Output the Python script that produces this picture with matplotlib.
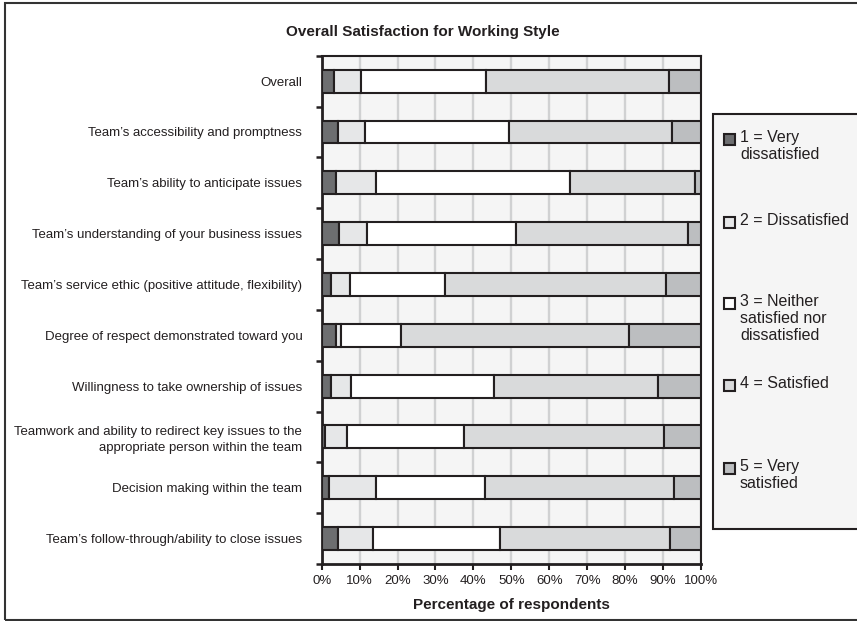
import numpy as np
import matplotlib
matplotlib.use("Agg")
import matplotlib.pyplot as plt
from matplotlib.patches import Rectangle

plt.rcParams['font.family'] = ['Liberation Sans', 'DejaVu Sans']

categories = [
    "Overall",
    "Team\u2019s accessibility and promptness",
    "Team\u2019s ability to anticipate issues",
    "Team\u2019s understanding of your business issues",
    "Team\u2019s service ethic (positive attitude, flexibility)",
    "Degree of respect demonstrated toward you",
    "Willingness to take ownership of issues",
    "Teamwork and ability to redirect key issues to the\nappropriate person within the team",
    "Decision making within the team",
    "Team\u2019s follow-through/ability to close issues",
]

# percent of respondents per rating, one list per rating
very_dissatisfied = [3.2, 4.4, 3.8, 4.6, 2.4, 3.8, 2.4, 0.9, 1.9, 4.4]
dissatisfied = [7.1, 7.0, 10.5, 7.4, 5.1, 1.2, 5.3, 5.7, 12.3, 9.1]
neither = [33.1, 38.1, 51.2, 39.3, 25.0, 15.8, 37.6, 31.0, 28.9, 33.6]
satisfied = [48.1, 42.9, 32.8, 45.3, 58.4, 60.1, 43.3, 52.7, 49.9, 44.8]
very_satisfied = [8.5, 7.6, 1.7, 3.4, 9.1, 19.1, 11.4, 9.7, 7.0, 8.1]

legend_labels = ["1 = Very\ndissatisfied", "2 = Dissatisfied",
                 "3 = Neither\nsatisfied nor\ndissatisfied", "4 = Satisfied",
                 "5 = Very\nsatisfied"]
colors = ["#6d6e70", "#e6e7e8", "#ffffff", "#d9dadb", "#bcbec0"]
edge = "#231f20"

series = [very_dissatisfied, dissatisfied, neither, satisfied, very_satisfied]

fig = plt.figure(figsize=(8.57, 6.21), dpi=100)
W, H = 857, 621
ax = fig.add_axes([321.7 / W, 1 - 564 / H, (701 - 321.7) / W, (564 - 55.7) / H])
ax.set_facecolor("#f5f5f5")

y = np.arange(len(categories))
left = np.zeros(len(categories))
for vals, col in zip(series, colors):
    ax.barh(y, vals, left=left, height=0.45, color=col, edgecolor=edge,
            linewidth=1.5, zorder=3)
    left += np.array(vals)

ax.set_xlim(0, 100)
ax.set_ylim(len(categories) - 0.5, -0.5)
ax.set_xticks(np.arange(0, 101, 10))
ax.set_xticklabels([f"{v}%" for v in range(0, 101, 10)], fontsize=9.5, color="#231f20")
ax.tick_params(axis='x', length=4, width=1.5, color=edge, pad=4)
ax.xaxis.grid(True, color="#d0d1d2", linewidth=1.7, zorder=0)
ax.set_axisbelow(True)

ax.set_yticks(y)
ax.set_yticklabels(categories, fontsize=9.5, color="#231f20", linespacing=1.4)
ax.tick_params(axis='y', which='major', length=0, pad=14)
ax.set_yticks(np.arange(-0.5, len(categories), 1.0), minor=True)
ax.tick_params(axis='y', which='minor', length=4, width=1.8, color=edge)

for s in ["left", "bottom"]:
    ax.spines[s].set_linewidth(2.0)
    ax.spines[s].set_color(edge)
for s in ["top", "right"]:
    ax.spines[s].set_linewidth(1.5)
    ax.spines[s].set_color(edge)

ax.set_xlabel("Percentage of respondents", fontsize=11, fontweight='bold',
              color="#231f20", labelpad=8)
fig.text(423 / W, 1 - 32 / H, "Overall Satisfaction for Working Style",
         ha='center', va='center', fontsize=11, fontweight='bold', color="#231f20")

# outer frame
fig.patches.append(Rectangle((4.5 / W, 1.5 / H), (870 - 4.5) / W, (618 - 1.5) / H,
                             transform=fig.transFigure, fill=False,
                             edgecolor="#333333", linewidth=1.5))

# legend box
fig.patches.append(Rectangle((713 / W, 1 - 529 / H), (880 - 713) / W, (529 - 114) / H,
                             transform=fig.transFigure, facecolor="#f5f5f5",
                             edgecolor=edge, linewidth=1.5))
legend_y = [139, 222, 303, 385, 468]
for lab, col, yy in zip(legend_labels, colors, legend_y):
    fig.patches.append(Rectangle((724 / W, 1 - (yy + 6) / H), 11 / W, 11 / H,
                                 transform=fig.transFigure, facecolor=col,
                                 edgecolor=edge, linewidth=1.5))
    fig.text(740 / W, 1 - (yy - 9) / H, lab, ha='left', va='top', fontsize=11.5,
             color="#231f20", linespacing=1.15)

fig.savefig("out.png", dpi=100)
